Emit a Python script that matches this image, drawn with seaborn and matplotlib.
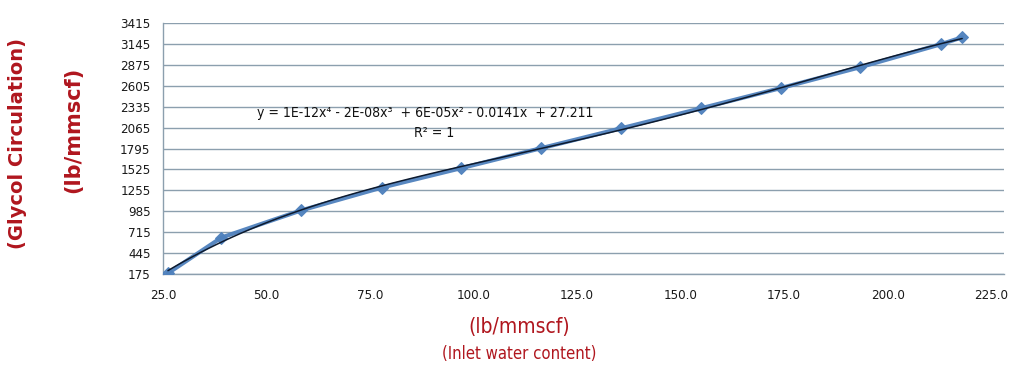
import numpy as np
import pandas as pd
import matplotlib
matplotlib.use("Agg")
import matplotlib.pyplot as plt
from matplotlib.ticker import FixedLocator
import seaborn as sns

# ---- data ----
water_content = [26.2, 39.1, 58.3, 77.8, 96.9, 116.4, 135.6, 155.0, 174.2, 193.4, 212.8, 218.0]
glycol_circ = [185, 645, 995, 1290, 1540, 1800, 2055, 2315, 2575, 2845, 3140, 3230]
x_ticks = [25, 50, 75, 100, 125, 150, 175, 200, 225]
y_ticks = [175, 445, 715, 985, 1255, 1525, 1795, 2065, 2335, 2605, 2875, 3145, 3415]
equation = "y = 1E-12x\u2074 - 2E-08x\u00b3  + 6E-05x\u00b2 - 0.0141x  + 27.211"
r2_text = "R\u00b2 = 1"

df = pd.DataFrame({"x": water_content, "y": glycol_circ})

sns.set_style("white")
plt.rcParams["font.family"] = ["DejaVu Sans"]
plt.rcParams["font.stretch"] = "condensed"

red = "#B0161E"
blue = "#4F81BD"
grid_c = "#8C9FAE"

fig = plt.figure(figsize=(10.12, 3.65), dpi=100)
ax = fig.add_axes([163 / 1012, 1 - 274 / 365, (1004 - 163) / 1012, (274 - 23) / 365])

sns.lineplot(data=df, x="x", y="y", ax=ax, color=blue, linewidth=3.0,
             marker="D", markersize=6.5, markeredgecolor=blue, alpha=0.95, zorder=3)
sns.regplot(data=df, x="x", y="y", ax=ax, order=4, ci=None, scatter=False,
            line_kws={"color": "#0D1A2E", "linewidth": 1.1, "zorder": 4})

ax.set_xlim(25, 228.1)
ax.set_ylim(175, 3415)
ax.yaxis.set_major_locator(FixedLocator(y_ticks))
ax.yaxis.set_minor_locator(FixedLocator([v + 135 for v in y_ticks[:-1]]))
ax.xaxis.set_major_locator(FixedLocator(x_ticks))
ax.xaxis.set_minor_locator(FixedLocator(list(range(35, 226, 10))))
ax.set_xticklabels([f"{v:.1f}" for v in x_ticks])

ax.grid(axis="y", color=grid_c, linewidth=1.0)
ax.grid(axis="x", visible=False)
for s in ["top", "right"]:
    ax.spines[s].set_visible(False)
for s in ["left", "bottom"]:
    ax.spines[s].set_color(grid_c)
    ax.spines[s].set_linewidth(1.0)

ax.tick_params(axis="both", which="both", direction="inout", colors=grid_c,
               labelcolor="#1A1A1A", labelsize=9.5)
ax.tick_params(axis="both", which="major", length=6)
ax.tick_params(axis="both", which="minor", length=4)
ax.tick_params(axis="x", pad=8)
ax.tick_params(axis="y", pad=6)
ax.set_xlabel("")
ax.set_ylabel("")

fig.text(425 / 1012, 1 - 113 / 365, equation, fontsize=10, ha="center", va="center",
         color="#111111")
fig.text(434 / 1012, 1 - 133 / 365, r2_text, fontsize=10, ha="center", va="center",
         color="#111111")

fig.text(18 / 1012, 1 - 143 / 365, "(Glycol Circulation)", rotation=90, ha="center", va="center",
         color=red, fontsize=14, fontweight="bold", fontstretch="normal")
fig.text(73 / 1012, 1 - 130 / 365, "(lb/mmscf)", rotation=90, ha="center", va="center",
         color=red, fontsize=15, fontweight="bold", fontstretch="normal")
fig.text(519 / 1012, 1 - 327 / 365, "(lb/mmscf)", ha="center", va="center",
         color=red, fontsize=15)
fig.text(519 / 1012, 1 - 354 / 365, "(Inlet water content)", ha="center", va="center",
         color=red, fontsize=12)

fig.savefig("out.png", dpi=100)
